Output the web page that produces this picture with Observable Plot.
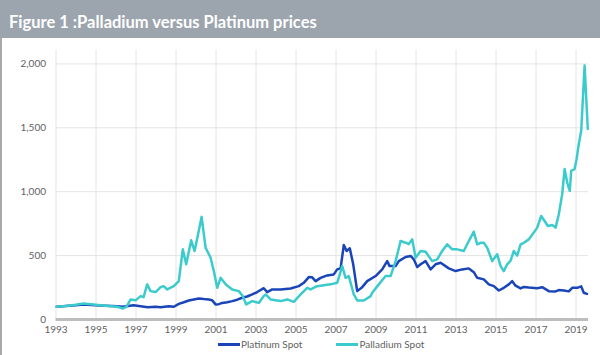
<!DOCTYPE html>
<html><head><meta charset="utf-8">
<script src="https://cdn.jsdelivr.net/npm/d3@7"></script>
<script src="https://cdn.jsdelivr.net/npm/@observablehq/plot@0.6"></script>
<style>
body{margin:0;width:600px;height:355px;overflow:hidden;background:#fff;font-family:Lato,sans-serif;position:relative}
#title{height:38px;background:#9ca5ae;color:#fff;font-weight:700;font-size:16.5px;line-height:38px;padding-left:9px;padding-top:3px;box-sizing:border-box}
#frame{position:absolute;left:0;top:38px;width:2px;height:317px;background:#a9a9a9}
#chart{position:absolute;top:37px;left:0}
#legend{position:absolute;top:338px;left:218px;display:flex;align-items:center;font-size:10px;color:#5f5f5f;line-height:12px}
#legend span.sw{display:inline-block;width:22px;height:3px;margin-right:1px}
#legend span.item{display:flex;align-items:center;margin-right:34px}
</style></head>
<body>
<div id="title">Figure 1 :Palladium versus Platinum prices</div>
<div id="frame"></div>
<div id="chart"></div>
<div id="legend"></div>
<script>
const seriesNames = ["Platinum Spot", "Palladium Spot"];
const seriesColors = ["#1a45b8", "#3ccbcd"];
const tickYears = [1993,1995,1997,1999,2001,2003,2005,2007,2009,2011,2013,2015,2017,2019];
const yTicks = [0,500,1000,1500,2000];

const platYears = [1993.03,1993.48,1993.98,1994.38,1994.98,1995.48,1996.08,1996.33,1996.88,1997.23,1997.58,1997.98,1998.23,1998.64,1998.89,1999.14,1999.39,1999.64,1999.89,2000.14,2000.39,2000.64,2000.81,2000.98,2001.14,2001.31,2001.56,2001.81,2002.06,2002.31,2002.56,2002.81,2003.06,2003.39,2003.56,2003.81,2004.23,2004.73,2005.14,2005.39,2005.64,2005.81,2005.98,2006.23,2006.56,2006.89,2007.06,2007.23,2007.39,2007.53,2007.69,2007.86,2008.06,2008.31,2008.56,2008.98,2009.31,2009.56,2009.68,2009.98,2010.14,2010.48,2010.73,2010.89,2011.06,2011.23,2011.48,2011.73,2011.98,2012.23,2012.64,2012.98,2013.31,2013.64,2013.89,2014.06,2014.39,2014.64,2014.89,2015.14,2015.39,2015.64,2015.81,2015.98,2016.23,2016.39,2016.64,2017.06,2017.31,2017.64,2017.98,2018.14,2018.39,2018.64,2018.81,2019.06,2019.26,2019.39,2019.55];
const platinum = [100,105,112,118,112,108,104,100,112,104,96,100,96,104,100,122,135,149,157,165,160,157,150,118,120,130,135,144,155,170,180,196,215,245,214,235,235,243,261,287,332,330,300,326,345,353,392,400,583,536,557,432,222,253,300,340,392,457,418,418,457,489,497,471,410,432,457,392,432,444,400,379,392,400,370,326,314,275,261,227,248,275,300,265,243,255,250,245,253,222,220,230,227,220,248,248,259,209,200];

const palYears = [1993.03,1993.48,1993.98,1994.38,1994.98,1995.48,1996.08,1996.33,1996.53,1996.73,1996.98,1997.23,1997.38,1997.56,1997.73,1997.98,1998.23,1998.38,1998.56,1998.89,1999.14,1999.34,1999.51,1999.76,1999.93,2000.28,2000.48,2000.73,2000.89,2001.06,2001.23,2001.48,2001.81,2002.14,2002.34,2002.51,2002.81,2003.14,2003.39,2003.48,2003.73,2004.23,2004.56,2004.89,2005.23,2005.56,2005.73,2006.06,2006.73,2007.06,2007.31,2007.48,2007.64,2007.89,2008.06,2008.39,2008.73,2008.81,2009.14,2009.48,2009.73,2009.98,2010.23,2010.48,2010.64,2010.81,2010.98,2011.23,2011.48,2011.81,2012.06,2012.31,2012.56,2012.81,2013.06,2013.39,2013.64,2013.89,2014.06,2014.23,2014.39,2014.56,2014.81,2015.06,2015.23,2015.39,2015.56,2015.73,2015.89,2016.06,2016.23,2016.39,2016.64,2016.89,2017.06,2017.26,2017.43,2017.59,2017.81,2017.98,2018.14,2018.31,2018.43,2018.56,2018.69,2018.76,2018.93,2019.03,2019.14,2019.26,2019.43,2019.59];
const palladium = [100,105,115,125,115,108,100,86,100,157,150,183,175,275,222,215,253,261,235,261,300,549,432,620,536,803,562,483,380,248,326,275,235,222,183,118,144,130,183,196,157,144,157,138,196,248,235,261,275,287,418,326,340,196,149,149,183,209,275,340,340,457,614,601,590,627,483,536,530,457,470,536,588,549,549,536,614,687,588,600,601,562,457,510,418,379,432,460,536,500,588,600,627,680,719,810,771,732,740,719,824,981,1177,1072,1007,1164,1177,1255,1373,1477,1987,1491];

const platData = platYears.map((t,i)=>({t, v: platinum[i]}));
const palData = palYears.map((t,i)=>({t, v: palladium[i]}));

const chart = Plot.plot({
  width: 600, height: 301,
  marginLeft: 55.5, marginRight: 12, marginTop: 13, marginBottom: 19,
  style: {fontFamily: "Lato, sans-serif", fontSize: "10px", color: "#5f5f5f", background: "transparent"},
  x: {domain: [1993, 2019.625], label: null},
  y: {domain: [0, 2105], label: null},
  marks: [
    Plot.gridX(tickYears, {stroke: "#e4e4e4", strokeOpacity: 1}),
    Plot.gridY(yTicks.slice(1), {stroke: "#e4e4e4", strokeOpacity: 1}),
    Plot.line(platData, {x: "t", y: "v", stroke: seriesColors[0], strokeWidth: 2.5, curve: "linear"}),
    Plot.line(palData, {x: "t", y: "v", stroke: seriesColors[1], strokeWidth: 2.5, curve: "linear"}),
    Plot.ruleY([0], {stroke: "#bdbdbd", strokeWidth: 3}),
    Plot.axisX(tickYears, {tickSize: 0, tickPadding: 6, tickFormat: d => String(d), fill: "#5f5f5f"}),
    Plot.axisY(yTicks, {tickSize: 0, tickPadding: 10, tickFormat: d3.format(","), fill: "#5f5f5f"})
  ]
});
document.getElementById("chart").appendChild(chart);

const legend = document.getElementById("legend");
seriesNames.forEach((n,i)=>{
  const item = document.createElement("span"); item.className = "item";
  const sw = document.createElement("span"); sw.className = "sw"; sw.style.background = seriesColors[i];
  const tx = document.createElement("span"); tx.textContent = n;
  item.appendChild(sw); item.appendChild(tx); legend.appendChild(item);
});
</script>
</body></html>
